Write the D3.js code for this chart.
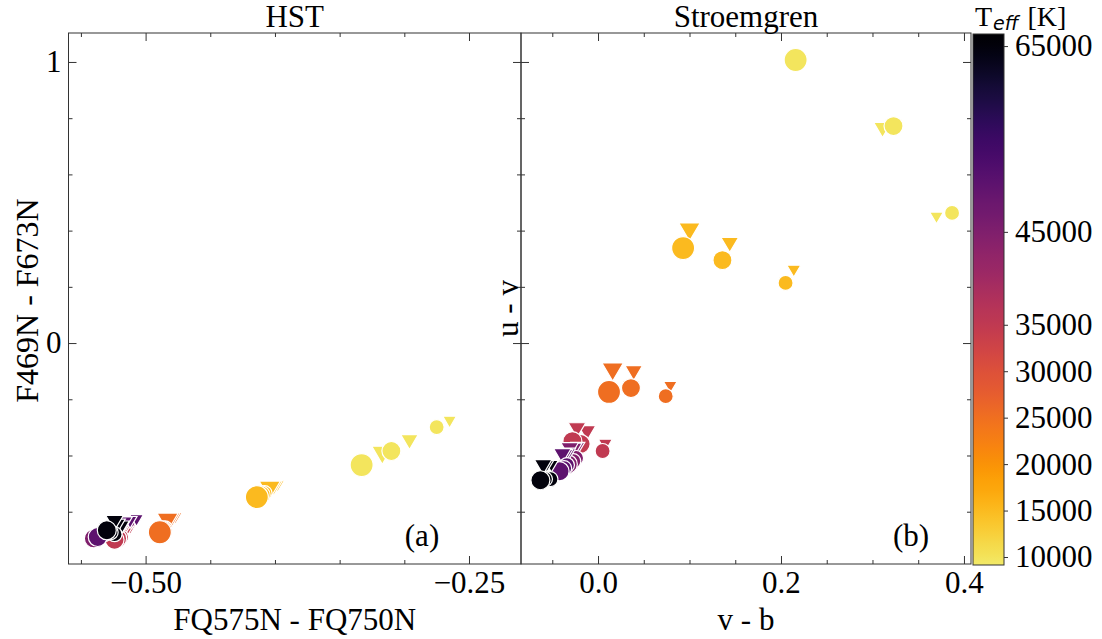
<!DOCTYPE html>
<html>
<head>
<meta charset="utf-8">
<script src="https://cdn.jsdelivr.net/npm/d3@7"></script>
<style>
  body { margin: 0; background: #fff; }
  svg text { font-family: "Liberation Serif", "Times New Roman", serif; fill: #000; }
</style>
</head>
<body>
<svg id="chart" width="1102" height="639"></svg>
<script>
// ---- data ----
const teffGroups = [10000, 15000, 25000, 35000, 45000, 50000, 65000];

// one entry per star, three stars per temperature
const starTeff = teffGroups.flatMap(t => [t, t, t]);
const starSize = ["large", "medium", "small", "large", "medium", "small", "large", "medium", "small",
                  "medium", "medium", "small", "medium", "small", "small", "medium", "small", "small",
                  "medium", "small", "small"];

// HST panel: circles
const hstCircX = [-0.333, -0.310, -0.275, -0.414, -0.411, -0.408, -0.489, -0.487, -0.485,
                  -0.524, -0.522, -0.519, -0.540, -0.535, -0.530, -0.537, -0.532, -0.527,
                  -0.530, -0.527, -0.524];
const hstCircY = [-0.434, -0.384, -0.299, -0.548, -0.541, -0.534, -0.673, -0.666, -0.659,
                  -0.700, -0.695, -0.690, -0.695, -0.685, -0.675, -0.690, -0.680, -0.670,
                  -0.666, -0.673, -0.680];
// HST panel: triangles
const hstTriX = [-0.317, -0.296, -0.265, -0.404, -0.401, -0.398, -0.483, -0.480, -0.477,
                 -0.518, -0.515, -0.512, -0.520, -0.515, -0.510, -0.517, -0.512, -0.507,
                 -0.524, -0.521, -0.518];
const hstTriY = [-0.399, -0.352, -0.281, -0.523, -0.516, -0.509, -0.637, -0.630, -0.623,
                 -0.672, -0.666, -0.660, -0.650, -0.643, -0.636, -0.645, -0.638, -0.631,
                 -0.640, -0.647, -0.654];

// Stroemgren panel: circles
const strCircX = [0.216, 0.323, 0.387, 0.093, 0.136, 0.205, 0.012, 0.036, 0.074,
                  -0.028, -0.019, 0.005, -0.033, -0.027, -0.024, -0.042, -0.037, -0.034,
                  -0.063, -0.058, -0.052];
const strCircY = [1.007, 0.772, 0.463, 0.338, 0.295, 0.214, -0.174, -0.160, -0.189,
                  -0.349, -0.359, -0.384, -0.431, -0.420, -0.409, -0.456, -0.445, -0.434,
                  -0.488, -0.484, -0.484];
// Stroemgren panel: triangles
const strTriX = [0.217, 0.311, 0.370, 0.100, 0.144, 0.214, 0.016, 0.039, 0.079,
                 -0.023, -0.012, 0.008, -0.031, -0.025, -0.022, -0.039, -0.035, -0.032,
                 -0.060, -0.056, -0.051];
const strTriY = [0.995, 0.758, 0.445, 0.395, 0.349, 0.256, -0.103, -0.107, -0.157,
                 -0.310, -0.320, -0.363, -0.381, -0.377, -0.374, -0.402, -0.399, -0.395,
                 -0.441, -0.438, -0.438];

const cbarTicks = [10000, 15000, 20000, 25000, 30000, 35000, 45000, 65000];

// ---- layout ----
const svg = d3.select("#chart");
const yTop = 33, yBottom = 564;
const panelL = { x0: 68.5, x1: 521 };
const panelR = { x0: 521, x1: 971 };
const cbar = { x0: 973, x1: 1004, y0: 34, y1: 565 };
const fontSize = 31;

const y = d3.scaleLinear().domain([-0.786, 1.103]).range([yBottom, yTop]);
const xL = d3.scaleLinear().domain([-0.5596, -0.2098]).range([panelL.x0, panelL.x1]);
const xR = d3.scaleLinear().domain([-0.0842, 0.4077]).range([panelR.x0, panelR.x1]);

const tNorm = d3.scaleLinear().domain([9140, 66300]).range([0.94, 0]);
const colorOf = t => d3.interpolateInferno(tNorm(t));
const radius = d3.scaleOrdinal().domain(["large", "medium", "small"]).range([11.5, 9.5, 7.5]);

function triPath(w) {
  const h = 0.85 * w;
  return `M${-w / 2},${-h / 2}L${w / 2},${-h / 2}L0,${h / 2}Z`;
}

function styleTicks(g) {
  g.attr("font-size", null).attr("font-family", null);
  g.select(".domain").remove();
  g.selectAll(".tick line").attr("stroke", "#333");
  g.selectAll(".tick text").style("font-size", fontSize + "px");
}

function drawPanel(x, majorX, minorX, fmtX, showYLabels, cx, cy, tx, ty) {
  const g = svg.append("g");
  const w = x.range()[1];
  // ticks, all pointing inwards
  g.append("g").attr("transform", `translate(0,${yBottom})`)
    .call(d3.axisBottom(x).tickValues(majorX).tickFormat(fmtX).tickSizeInner(-8).tickSizeOuter(0).tickPadding(7))
    .call(styleTicks);
  g.append("g").attr("transform", `translate(0,${yBottom})`)
    .call(d3.axisBottom(x).tickValues(minorX).tickFormat("").tickSizeInner(-4).tickSizeOuter(0))
    .call(styleTicks);
  g.append("g").attr("transform", `translate(0,${yTop})`)
    .call(d3.axisTop(x).tickValues(majorX).tickFormat("").tickSizeInner(-8).tickSizeOuter(0))
    .call(styleTicks);
  g.append("g").attr("transform", `translate(0,${yTop})`)
    .call(d3.axisTop(x).tickValues(minorX).tickFormat("").tickSizeInner(-4).tickSizeOuter(0))
    .call(styleTicks);

  const yMajor = [0, 1];
  const yMinor = [-0.6, -0.4, -0.2, 0.2, 0.4, 0.6, 0.8];
  g.append("g").attr("transform", `translate(${x.range()[0]},0)`)
    .call(d3.axisLeft(y).tickValues(yMajor).tickFormat(showYLabels ? d3.format("d") : "")
      .tickSizeInner(-8).tickSizeOuter(0).tickPadding(7))
    .call(styleTicks);
  g.append("g").attr("transform", `translate(${x.range()[0]},0)`)
    .call(d3.axisLeft(y).tickValues(yMinor).tickFormat("").tickSizeInner(-4).tickSizeOuter(0))
    .call(styleTicks);
  g.append("g").attr("transform", `translate(${w},0)`)
    .call(d3.axisRight(y).tickValues(yMajor).tickFormat("").tickSizeInner(-8).tickSizeOuter(0))
    .call(styleTicks);
  g.append("g").attr("transform", `translate(${w},0)`)
    .call(d3.axisRight(y).tickValues(yMinor).tickFormat("").tickSizeInner(-4).tickSizeOuter(0))
    .call(styleTicks);

  // markers: per temperature group, triangles first, then circles on top
  const marks = g.append("g");
  teffGroups.forEach(t => {
    const idx = d3.range(starTeff.length).filter(i => starTeff[i] === t).reverse();
    idx.forEach(i => {
      marks.append("path")
        .attr("d", triPath(radius(starSize[i]) * 1.85))
        .attr("transform", `translate(${x(tx[i])},${y(ty[i])})`)
        .attr("fill", colorOf(t))
        .attr("stroke", "#fff").attr("stroke-width", 1.2);
    });
    idx.forEach(i => {
      marks.append("circle")
        .attr("cx", x(cx[i])).attr("cy", y(cy[i]))
        .attr("r", radius(starSize[i]))
        .attr("fill", colorOf(t))
        .attr("stroke", "#fff").attr("stroke-width", 1.2);
    });
  });

  // frame
  g.append("rect")
    .attr("x", x.range()[0]).attr("y", yTop)
    .attr("width", w - x.range()[0]).attr("height", yBottom - yTop)
    .attr("fill", "none").attr("stroke", "#333").attr("stroke-width", 1);
  return g;
}

drawPanel(xL, [-0.5, -0.25], [-0.55, -0.45, -0.40, -0.35, -0.30],
  d3.format(".2f"), true, hstCircX, hstCircY, hstTriX, hstTriY);
drawPanel(xR, [0, 0.2, 0.4], [-0.05, 0.05, 0.1, 0.15, 0.25, 0.3, 0.35],
  d3.format(".1f"), false, strCircX, strCircY, strTriX, strTriY);

// ---- text ----
function label(txt, x, yy, opts = {}) {
  const t = svg.append("text").attr("x", x).attr("y", yy)
    .attr("text-anchor", opts.anchor || "middle")
    .style("font-size", (opts.size || fontSize) + "px")
    .text(txt);
  if (opts.rotate) t.attr("transform", `rotate(-90,${x},${yy})`);
  return t;
}
label("HST", (panelL.x0 + panelL.x1) / 2, 27);
label("Stroemgren", (panelR.x0 + panelR.x1) / 2, 27);
label("FQ575N - FQ750N", (panelL.x0 + panelL.x1) / 2, 630);
label("v - b", (panelR.x0 + panelR.x1) / 2, 630);
label("F469N - F673N", 38, (yTop + yBottom) / 2 + 2, { rotate: true, size: 32 });
label("u - v", 518, (yTop + yBottom) / 2 + 10, { rotate: true });
label("(a)", 422, 546);
label("(b)", 911, 546);

// ---- colorbar ----
const cScale = d3.scaleLinear().domain([9140, 66300]).range([cbar.y1, cbar.y0]);
const grad = svg.append("defs").append("linearGradient")
  .attr("id", "cgrad").attr("x1", 0).attr("y1", 1).attr("x2", 0).attr("y2", 0);
d3.range(0, 1.0001, 0.02).forEach(f => {
  grad.append("stop").attr("offset", f)
    .attr("stop-color", colorOf(cScale.domain()[0] + f * (cScale.domain()[1] - cScale.domain()[0])));
});
svg.append("rect")
  .attr("x", cbar.x0).attr("y", cbar.y0)
  .attr("width", cbar.x1 - cbar.x0).attr("height", cbar.y1 - cbar.y0)
  .attr("fill", "url(#cgrad)").attr("stroke", "#333").attr("stroke-width", 1);
svg.append("g").attr("transform", `translate(${cbar.x1},0)`)
  .call(d3.axisRight(cScale).tickValues(cbarTicks).tickFormat(d3.format("d"))
    .tickSizeInner(4).tickSizeOuter(0).tickPadding(7))
  .call(styleTicks);

const ct = svg.append("text").attr("x", 975).attr("y", 26).style("font-size", "28px");
ct.append("tspan").text("T");
ct.append("tspan").attr("dy", 4).attr("dx", 1)
  .style("font-family", "'DejaVu Sans', sans-serif").style("font-style", "italic")
  .style("font-size", "19px").text("eff");
ct.append("tspan").attr("dy", -4).attr("dx", 2).text(" [K]");
</script>
</body>
</html>
